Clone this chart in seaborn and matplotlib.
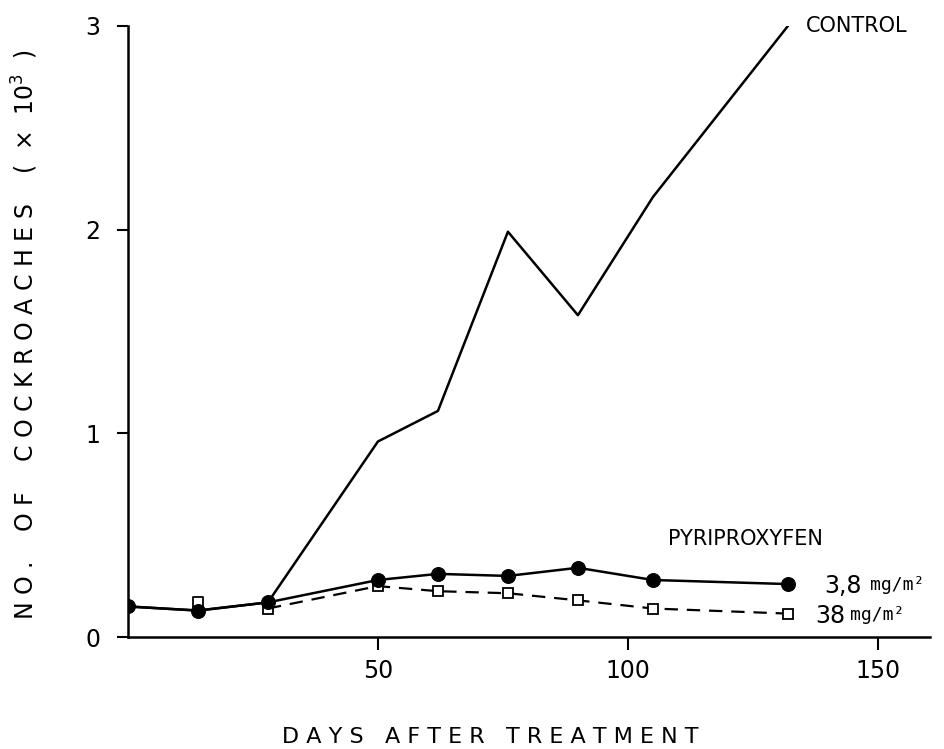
import matplotlib
matplotlib.use("Agg")
import matplotlib.pyplot as plt
import seaborn as sns
import pandas as pd

days_control = [0, 14, 28, 50, 62, 76, 90, 105, 132]
control = [0.15, 0.13, 0.17, 0.96, 1.11, 1.99, 1.58, 2.16, 3.00]

days_low = [0, 14, 28, 50, 62, 76, 90, 105, 132]
dose_3_8 = [0.15, 0.13, 0.17, 0.28, 0.31, 0.30, 0.34, 0.28, 0.26]

days_high = [28, 50, 62, 76, 90, 105, 132]
dose_38 = [0.14, 0.25, 0.225, 0.215, 0.18, 0.14, 0.115]
extra_high_day = [14]
extra_high_val = [0.17]

x_ticks = [50, 100, 150]
y_ticks = [0, 1, 2, 3]

sns.set_style("ticks")
FONT = ["DejaVu Sans", "Noto Sans"]
plt.rcParams["font.family"] = FONT
plt.rcParams["text.color"] = "black"
plt.rcParams["xtick.color"] = "black"
plt.rcParams["ytick.color"] = "black"
plt.rcParams["axes.edgecolor"] = "black"

fig = plt.figure(figsize=(9.45, 7.49), dpi=100)
ax = fig.add_axes([0.1354, 0.1495, 0.8486, 0.8158])

df_c = pd.DataFrame({"day": days_control, "val": control})
df_l = pd.DataFrame({"day": days_low, "val": dose_3_8})
df_h = pd.DataFrame({"day": days_high, "val": dose_38})
df_e = pd.DataFrame({"day": extra_high_day, "val": extra_high_val})

sns.lineplot(data=df_c, x="day", y="val", ax=ax, color="black", lw=1.8, zorder=2)
sns.lineplot(data=df_h, x="day", y="val", ax=ax, color="black", lw=1.6,
             linestyle=(0, (6, 4)), marker="s", markersize=7,
             markerfacecolor="white", markeredgecolor="black", markeredgewidth=1.3, zorder=3)
sns.scatterplot(data=df_e, x="day", y="val", ax=ax, marker="s", s=50,
                facecolor="white", edgecolor="black", linewidth=1.3, zorder=3)
sns.lineplot(data=df_l, x="day", y="val", ax=ax, color="black", lw=1.8,
             marker="o", markersize=10, markerfacecolor="black",
             markeredgecolor="black", zorder=4)

ax.set_xlim(0, 160.4)
ax.set_ylim(0, 3)
ax.set_xticks(x_ticks)
ax.set_yticks(y_ticks)
ax.set_xticklabels([str(t) for t in x_ticks], fontsize=17)
ax.set_yticklabels([str(t) for t in y_ticks], fontsize=17)
ax.tick_params(axis="x", direction="out", length=9, width=1.5, pad=7)
ax.tick_params(axis="y", direction="out", length=8, width=1.5, pad=12)
for s in ["top", "right"]:
    ax.spines[s].set_visible(False)
for s in ["left", "bottom"]:
    ax.spines[s].set_linewidth(1.8)
ax.set_xlabel("")
ax.set_ylabel("")

fig.text(0.519, 0.003, "D A Y S   A F T E R   T R E A T M E N T",
         fontsize=16, ha="center", va="bottom")
fig.text(0.026, 0.553, r"N O .    O F    C O C K R O A C H E S    (  ×  10$^{3}$  )",
         fontsize=17, ha="center", va="center", rotation=90)

ax.text(135.5, 3.0, "CONTROL", fontsize=15, ha="left", va="center")
ax.text(108, 0.48, "PYRIPROXYFEN", fontsize=15, ha="left", va="center")
ax.text(139.3, 0.25, "3,8", fontsize=17, ha="left", va="center")
ax.text(148.5, 0.255, "mg/m²", fontsize=13, ha="left", va="center", family="DejaVu Sans Mono")
ax.text(137.5, 0.105, "38", fontsize=17, ha="left", va="center")
ax.text(144.5, 0.11, "mg/m²", fontsize=13, ha="left", va="center", family="DejaVu Sans Mono")

fig.savefig("out.png", dpi=100)
